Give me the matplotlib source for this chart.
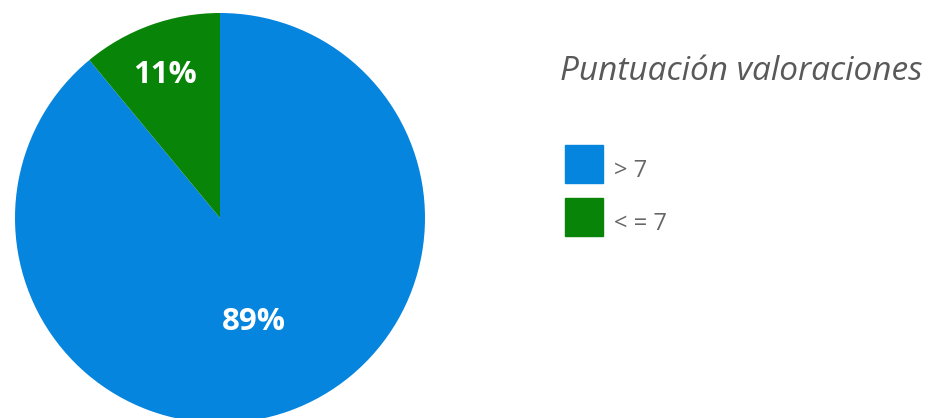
""" Pie chart of review scores with a hand placed legend on the right """

import numpy as np
import matplotlib.pyplot as plt
from matplotlib.patches import Rectangle

categories = ['> 7', '< = 7']
shares = [89, 11]
colours = ['#0685de', '#088408']
title = 'Puntuación valoraciones'

W, H = 928, 418
fig = plt.figure(figsize=(W / 100, H / 100), dpi=100)

# Pie axes in pixel units: centre (220, 218), radius 205
cx, cy, r = 220, 218, 205
ax = fig.add_axes([(cx - r) / W, (H - cy - r) / H, 2 * r / W, 2 * r / H])
wedges, _ = ax.pie(shares, colors=colours, startangle=90, counterclock=False,
                   radius=1.0, wedgeprops={'linewidth': 0})
ax.set_xlim(-1, 1)
ax.set_ylim(-1, 1)
ax.set_aspect('auto')
ax.axis('off')

# Percentage labels at the middle angle of each wedge
label_dist = [0.53, 0.75]
for w, val, d in zip(wedges, shares, label_dist):
    mid = np.deg2rad((w.theta1 + w.theta2) / 2)
    ax.text(d * np.cos(mid) - 0.015, d * np.sin(mid) - 0.01, f'{val}%',
            color='white', fontsize=22.5, fontweight='bold',
            family='Open Sans', ha='center', va='center')

# Title and legend
fig.text(560 / W, 1 - 71 / H, title, fontsize=24, style='italic',
         family='Open Sans', color='#595959', ha='left', va='center')
for i, (cat, col) in enumerate(zip(categories, colours)):
    top = 145 + i * 53
    fig.patches.append(Rectangle((565 / W, 1 - (top + 38) / H), 38 / W, 38 / H,
                                 transform=fig.transFigure, color=col))
    fig.text(614 / W, 1 - (top + 26) / H, cat, fontsize=17, family='Open Sans',
             color='#666666', ha='left', va='center')

fig.savefig('out.png', dpi=100)
